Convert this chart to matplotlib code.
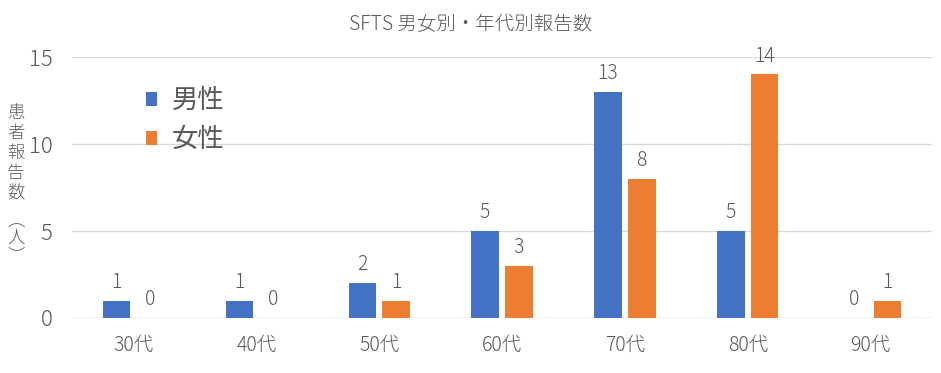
import matplotlib.pyplot as plt
import numpy as np

plt.rcParams['font.family'] = ['Noto Sans CJK JP', 'DejaVu Sans']

ages = ['30代', '40代', '50代', '60代', '70代', '80代', '90代']
male = [1, 1, 2, 5, 13, 5, 0]
female = [0, 0, 1, 3, 8, 14, 1]

blue = '#4472C4'
orange = '#ED7D31'
gray = '#595959'

fig = plt.figure(figsize=(9.41, 3.73), dpi=100)
ax = fig.add_axes([0.0765, 0.1475, 0.914, 0.6995])

x = np.arange(len(ages))
w = 0.225
b1 = ax.bar(x - 0.137, male, w, color=blue, label='男性', zorder=3)
b2 = ax.bar(x + 0.137, female, w, color=orange, label='女性', zorder=3)

# 値ラベル
for bars in (b1, b2):
    for r in bars:
        ax.text(r.get_x() + r.get_width() / 2, r.get_height() + 0.45, str(int(r.get_height())),
                ha='center', va='bottom', fontsize=14, color=gray, fontweight='light')

ax.set_xlim(-0.5, len(ages) - 0.5)
ax.set_ylim(0, 15)
ax.set_yticks([0, 5, 10, 15])
ax.set_xticks(x)
ax.set_xticklabels(ages)
ax.yaxis.grid(True, color='#D9D9D9', linewidth=1, zorder=0)
for s in ax.spines.values():
    s.set_visible(False)
ax.tick_params(length=0, colors=gray, labelsize=14)
ax.tick_params(axis='x', pad=12)
ax.tick_params(axis='y', pad=14, labelsize=16)
for t in ax.get_xticklabels() + ax.get_yticklabels():
    t.set_fontweight('light')

ax.axhline(0, color='#D9D9D9', linewidth=1, zorder=1)

leg = ax.legend(loc='upper left', bbox_to_anchor=(0.058, 0.975), frameon=False,
                fontsize=19, handlelength=0.45, handleheight=0.45, handletextpad=0.55,
                labelspacing=0.45, labelcolor=gray)

fig.text(0.5, 0.933, 'SFTS 男女別・年代別報告数', ha='center', va='center',
         fontsize=14, color=gray, fontweight='light')

# 縦書きの軸ラベル
fig.text(0.017, 0.59, '\n'.join('患者報告数'), ha='center', va='center', fontsize=12.5,
         color=gray, linespacing=1.15, fontweight='light')
fig.text(0.017, 0.36, '\n'.join('︵人︶'), ha='center', va='center', fontsize=12.5,
         color=gray, linespacing=0.95, fontweight='light')

fig.savefig('out.png', dpi=100)
